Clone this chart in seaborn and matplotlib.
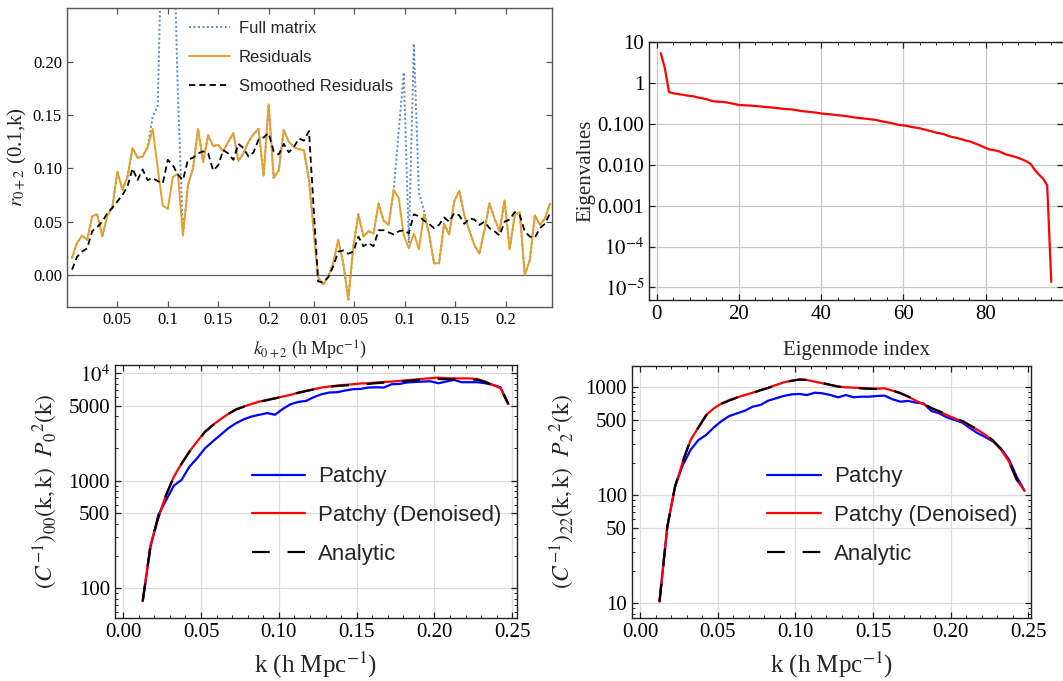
import numpy as np
import matplotlib
matplotlib.use('Agg')
import matplotlib.pyplot as plt
from matplotlib.ticker import LogLocator, NullFormatter, MultipleLocator
import seaborn as sns

# ---------------------------------------------------------------- data
# top left: correlation r_{0+2}(0.1, k), monopole half then quadrupole half
k_mono = [0.005, 0.010, 0.015, 0.020, 0.025, 0.030, 0.035, 0.040, 0.045, 0.050,
          0.055, 0.060, 0.065, 0.070, 0.075, 0.080, 0.085, 0.090, 0.095, 0.100,
          0.105, 0.110, 0.115, 0.120, 0.125, 0.130, 0.135, 0.140, 0.145, 0.150,
          0.155, 0.160, 0.165, 0.170, 0.175, 0.180, 0.185, 0.190, 0.195, 0.200,
          0.205, 0.210, 0.215, 0.220, 0.225, 0.230, 0.235, 0.240]
k_quad = [0.010, 0.015, 0.020, 0.025, 0.030, 0.035, 0.040, 0.045, 0.050, 0.055,
          0.060, 0.065, 0.070, 0.075, 0.080, 0.085, 0.090, 0.095, 0.100, 0.105,
          0.110, 0.115, 0.120, 0.125, 0.130, 0.135, 0.140, 0.145, 0.150, 0.155,
          0.160, 0.165, 0.170, 0.175, 0.180, 0.185, 0.190, 0.195, 0.200, 0.205,
          0.210, 0.215, 0.220, 0.225, 0.230, 0.235, 0.240]

full_mono = [0.016, 0.030, 0.037, 0.033, 0.055, 0.057, 0.036, 0.056, 0.063, 0.097,
             0.080, 0.092, 0.119, 0.110, 0.111, 0.120, 0.148, 0.159, 0.360, 0.550,
             0.350, 0.170, 0.038, 0.084, 0.100, 0.137, 0.106, 0.131, 0.121, 0.122,
             0.116, 0.125, 0.133, 0.107, 0.114, 0.125, 0.132, 0.137, 0.093, 0.160,
             0.091, 0.098, 0.136, 0.125, 0.120, 0.118, 0.117, 0.089]
full_quad = [-0.002, -0.009, -0.002, 0.011, 0.033, 0.011, -0.023, 0.027, 0.057, 0.036,
             0.041, 0.039, 0.067, 0.051, 0.047, 0.080, 0.135, 0.190, 0.030, 0.217,
             0.077, 0.061, 0.039, 0.011, 0.011, 0.048, 0.038, 0.069, 0.079, 0.056,
             0.042, 0.028, 0.020, 0.042, 0.067, 0.053, 0.041, 0.070, 0.024, 0.056,
             0.059, 0.000, 0.014, 0.056, 0.047, 0.053, 0.067]

res_mono = [0.016, 0.030, 0.037, 0.033, 0.055, 0.057, 0.036, 0.056, 0.063, 0.097,
            0.080, 0.092, 0.119, 0.110, 0.111, 0.120, 0.137, 0.100, 0.065, 0.062,
            0.092, 0.095, 0.037, 0.084, 0.100, 0.137, 0.106, 0.131, 0.121, 0.122,
            0.116, 0.125, 0.133, 0.107, 0.114, 0.125, 0.132, 0.137, 0.093, 0.160,
            0.091, 0.098, 0.136, 0.125, 0.120, 0.118, 0.117, 0.089]
res_quad = [-0.002, -0.009, -0.002, 0.011, 0.033, 0.011, -0.023, 0.027, 0.057, 0.036,
            0.041, 0.039, 0.067, 0.051, 0.047, 0.080, 0.072, 0.037, 0.025, 0.039,
            0.024, 0.057, 0.039, 0.011, 0.011, 0.048, 0.038, 0.069, 0.079, 0.056,
            0.042, 0.028, 0.020, 0.042, 0.067, 0.053, 0.041, 0.070, 0.024, 0.056,
            0.059, 0.000, 0.014, 0.056, 0.047, 0.053, 0.067]

smooth_mono = [0.005, 0.017, 0.022, 0.025, 0.041, 0.045, 0.050, 0.058, 0.063, 0.069,
               0.075, 0.083, 0.100, 0.089, 0.099, 0.089, 0.091, 0.088, 0.086, 0.108,
               0.103, 0.094, 0.089, 0.108, 0.110, 0.114, 0.116, 0.114, 0.098, 0.103,
               0.117, 0.114, 0.108, 0.123, 0.119, 0.111, 0.115, 0.127, 0.129, 0.133,
               0.116, 0.113, 0.123, 0.115, 0.120, 0.128, 0.126, 0.135]
smooth_quad = [-0.006, -0.007, -0.002, 0.008, 0.022, 0.023, 0.020, 0.022, 0.036, 0.027,
               0.030, 0.027, 0.042, 0.042, 0.040, 0.038, 0.041, 0.042, 0.039, 0.057,
               0.055, 0.051, 0.048, 0.044, 0.047, 0.054, 0.050, 0.058, 0.056, 0.048,
               0.053, 0.052, 0.047, 0.050, 0.044, 0.041, 0.037, 0.050, 0.052, 0.059,
               0.056, 0.041, 0.036, 0.035, 0.044, 0.048, 0.058]

# top right: eigenvalue spectrum
eig_vals = [5.5, 2.3, 0.61, 0.57, 0.55, 0.53, 0.51, 0.49, 0.48, 0.45,
            0.43, 0.41, 0.38, 0.36, 0.355, 0.35, 0.34, 0.325, 0.31, 0.295,
            0.29, 0.287, 0.283, 0.278, 0.272, 0.265, 0.26, 0.255, 0.25, 0.242,
            0.235, 0.232, 0.228, 0.22, 0.21, 0.205, 0.20, 0.195, 0.19, 0.182,
            0.178, 0.175, 0.17, 0.165, 0.162, 0.158, 0.152, 0.146, 0.142, 0.139,
            0.135, 0.131, 0.128, 0.122, 0.116, 0.111, 0.107, 0.100, 0.095, 0.093,
            0.090, 0.085, 0.082, 0.079, 0.074, 0.070, 0.066, 0.062, 0.059, 0.056,
            0.051, 0.048, 0.046, 0.043, 0.040, 0.038, 0.035, 0.032, 0.029, 0.026,
            0.024, 0.023, 0.022, 0.020, 0.018, 0.017, 0.016, 0.0148, 0.0135, 0.0122,
            0.0105, 0.0075, 0.0058, 0.0046, 0.0032, 1.35e-5]
eig_idx = np.arange(1, len(eig_vals) + 1)

# bottom: diagonal of the inverse covariance times P^2
k_bins = [0.0125, 0.0175, 0.0225, 0.0275, 0.0325, 0.0375, 0.0425, 0.0475, 0.0525, 0.0575,
          0.0625, 0.0675, 0.0725, 0.0775, 0.0825, 0.0875, 0.0925, 0.0975, 0.1025, 0.1075,
          0.1125, 0.1175, 0.1225, 0.1275, 0.1325, 0.1375, 0.1425, 0.1475, 0.1525, 0.1575,
          0.1625, 0.1675, 0.1725, 0.1775, 0.1825, 0.1875, 0.1925, 0.1975, 0.2025, 0.2075,
          0.2125, 0.2175, 0.2225, 0.2275, 0.2325, 0.2375, 0.2425, 0.2475]

patchy_00 = [76, 240, 480, 660, 900, 1020, 1350, 1620, 2000, 2320,
             2670, 3080, 3430, 3730, 3960, 4110, 4260, 4110, 4650, 5150,
             5410, 5530, 6000, 6380, 6620, 6660, 6900, 7100, 7150, 7360,
             7400, 7360, 7900, 7950, 8200, 8300, 8360, 8420, 8070, 8360,
             8670, 8250, 8250, 8250, 8070, 7800, 7400, 5180]
denoised_00 = [76, 253, 450, 740, 1090, 1450, 1870, 2320, 2870, 3300,
               3730, 4190, 4620, 4900, 5180, 5450, 5650, 5860, 6070, 6290,
               6610, 6850, 7100, 7360, 7520, 7680, 7800, 7900, 8020, 8070,
               8200, 8300, 8360, 8480, 8600, 8730, 8860, 8990, 9100, 9000,
               8950, 8950, 8950, 8850, 8360, 7800, 7250, 5180]
analytic_00 = [76, 250, 455, 735, 1080, 1440, 1860, 2300, 2840, 3280,
               3700, 4170, 4600, 4880, 5150, 5420, 5620, 5830, 6040, 6250,
               6570, 6820, 7080, 7320, 7480, 7620, 7700, 7780, 7880, 7950,
               8080, 8180, 8260, 8380, 8500, 8620, 8740, 8850, 8850, 8800,
               8750, 8750, 8750, 8700, 8300, 7750, 7200, 5180]

patchy_22 = [10.4, 51, 120, 190, 262, 323, 360, 424, 485, 540,
             571, 604, 658, 682, 748, 786, 826, 855, 862, 843,
             886, 874, 843, 803, 843, 803, 814, 814, 826, 832,
             770, 732, 743, 717, 706, 600, 571, 524, 495, 468,
             415, 373, 343, 312, 268, 214, 148, 110]
denoised_22 = [10.4, 51, 120, 204, 323, 424, 551, 635, 706, 758,
               803, 843, 886, 938, 986, 1043, 1104, 1144, 1177, 1160,
               1120, 1081, 1043, 1007, 993, 986, 979, 972, 965, 972,
               925, 874, 814, 748, 692, 635, 592, 551, 513, 478,
               436, 400, 360, 312, 262, 204, 138, 110]
analytic_22 = [10.4, 51, 121, 206, 326, 420, 545, 630, 700, 750,
               798, 838, 880, 932, 980, 1038, 1098, 1140, 1170, 1165,
               1128, 1088, 1048, 1010, 990, 980, 970, 962, 958, 968,
               930, 880, 820, 752, 698, 640, 598, 558, 520, 485,
               442, 406, 366, 318, 266, 206, 140, 110]

QUAD_SHIFT = 0.239      # where the quadrupole half starts on the joint axis
QUAD_TICK_SHIFT = 0.235

# ---------------------------------------------------------------- style
sns.set_theme(style='ticks')
plt.rcParams['font.family'] = ['Liberation Serif', 'DejaVu Serif']
plt.rcParams['mathtext.fontset'] = 'stix'
plt.rcParams['axes.linewidth'] = 1.0
sans = ['Liberation Sans', 'DejaVu Sans']

fig = plt.figure(figsize=(10.63, 6.81), dpi=100)
ax_tl = fig.add_axes([0.0630, 0.5492, 0.4563, 0.4391])
ax_tr = fig.add_axes([0.6108, 0.5595, 0.3892, 0.3793])
ax_bl = fig.add_axes([0.1082, 0.0930, 0.3779, 0.3711])
ax_br = fig.add_axes([0.5943, 0.0930, 0.3756, 0.3700])


def frame(ax, color='#333333'):
    for s in ax.spines.values():
        s.set_color(color)
        s.set_linewidth(1.0)
    ax.tick_params(which='both', direction='in', top=True, right=True,
                   colors=color, labelcolor='black')
    ax.tick_params(which='major', length=4.5, width=0.9)
    ax.tick_params(which='minor', length=2.5, width=0.7)


# ---------------------------------------------------------------- top left
x_joint = k_mono + [k + QUAD_SHIFT for k in k_quad]
full = full_mono + full_quad
res = res_mono + res_quad
smooth = smooth_mono + smooth_quad

ax_tl.axhline(0, color='#666666', lw=0.9, zorder=1)
sns.lineplot(x=x_joint, y=full, ax=ax_tl, color='#5b86c5', lw=1.4,
             linestyle=(0, (1, 1.3)), label='Full matrix')
sns.lineplot(x=x_joint, y=res, ax=ax_tl, color='#e3a02e', lw=1.4, label='Residuals')
sns.lineplot(x=x_joint, y=smooth, ax=ax_tl, color='black', lw=1.3,
             linestyle=(0, (3.5, 2.2)), label='Smoothed Residuals')
ax_tl.set_xlim(0.0, 0.481)
ax_tl.set_ylim(-0.030, 0.2504)
tl_ticks = [0.05, 0.10, 0.15, 0.20, 0.245] + [k + QUAD_TICK_SHIFT for k in (0.05, 0.10, 0.15, 0.20)]
ax_tl.set_xticks(tl_ticks, ['0.05', '0.1', '0.15', '0.2', '0.01', '0.05', '0.1', '0.15', '0.2'])
ax_tl.set_yticks([0.0, 0.05, 0.10, 0.15, 0.20], ['0.00', '0.05', '0.10', '0.15', '0.20'])
frame(ax_tl, '#555555')
ax_tl.tick_params(labelsize=12)
ax_tl.set_xlabel(r'$k_{0+2}$ (h Mpc$^{-1}$)', fontsize=13, labelpad=8)
ax_tl.set_ylabel(r'$r_{0+2}$ (0.1,k)', fontsize=15, labelpad=3)
ax_tl.legend(loc='center left', bbox_to_anchor=(0.2515, 0.834), frameon=False,
             prop={'family': sans, 'size': 12}, handlelength=2.45, handletextpad=0.56,
             labelspacing=0.83, borderpad=0, borderaxespad=0)

# ---------------------------------------------------------------- top right
sns.lineplot(x=eig_idx, y=eig_vals, ax=ax_tr, color='red', lw=1.6)
ax_tr.set_yscale('log')
ax_tr.set_xlim(-1.8, 98.85)
ax_tr.set_ylim(10 ** -5.31, 10 ** 1.02)
ax_tr.set_xticks([0, 20, 40, 60, 80])
ax_tr.xaxis.set_minor_locator(MultipleLocator(4))
ax_tr.set_yticks([1e-5, 1e-4, 1e-3, 1e-2, 1e-1, 1, 10],
                 ['$10^{-5}$', '$10^{-4}$', '0.001', '0.010', '0.100', '1', '10'])
ax_tr.yaxis.set_minor_locator(LogLocator(base=10, subs=np.arange(2, 10)))
ax_tr.yaxis.set_minor_formatter(NullFormatter())
ax_tr.grid(True, which='major', color='#c8c8c8', lw=0.9)
frame(ax_tr, '#222222')
ax_tr.spines['right'].set_visible(False)
ax_tr.tick_params(labelsize=15)
ax_tr.set_xlabel('Eigenmode index', fontsize=15, labelpad=12)
ax_tr.set_ylabel('Eigenvalues', fontsize=15, labelpad=2)

# ---------------------------------------------------------------- bottom panels
bottom = [
    (ax_bl, patchy_00, denoised_00, analytic_00, (10 ** 1.727, 10 ** 4.077),
     [100, 500, 1000, 5000, 10000], ['100', '500', '1000', '5000', '$10^4$'],
     r'$(C^{-1})_{00}\mathrm{(k,k)}\ \ P_0{}^2\mathrm{(k)}$', (-0.0053, 0.2529), (0.341, 0.404)),
    (ax_br, patchy_22, denoised_22, analytic_22, (10 ** 0.867, 10 ** 3.197),
     [10, 50, 100, 500, 1000], ['10', '50', '100', '500', '1000'],
     r'$(C^{-1})_{22}\mathrm{(k,k)}\ \ P_2{}^2\mathrm{(k)}$', (-0.0054, 0.2517), (0.340, 0.405)),
]
for ax, pat, den, ana, ylim, yt, ytl, ylab, xlim, leg_xy in bottom:
    sns.lineplot(x=k_bins, y=pat, ax=ax, color='#0000ff', lw=1.6, label='Patchy')
    sns.lineplot(x=k_bins, y=den, ax=ax, color='#ff0000', lw=1.6, label='Patchy (Denoised)')
    sns.lineplot(x=k_bins, y=ana, ax=ax, color='black', lw=1.6,
                 linestyle=(0, (8, 8)), label='Analytic')
    ax.set_yscale('log')
    ax.set_xlim(*xlim)
    ax.set_ylim(*ylim)
    ax.set_xticks([0.0, 0.05, 0.10, 0.15, 0.20, 0.25],
                  ['0.00', '0.05', '0.10', '0.15', '0.20', '0.25'])
    ax.xaxis.set_minor_locator(MultipleLocator(0.01))
    ax.set_yticks(yt, ytl)
    ax.yaxis.set_minor_locator(LogLocator(base=10, subs=np.arange(2, 10)))
    ax.yaxis.set_minor_formatter(NullFormatter())
    ax.grid(True, which='major', color='#dcdcdc', lw=0.9)
    frame(ax, '#222222')
    ax.tick_params(labelsize=15)
    ax.set_xlabel(r'k (h Mpc$^{-1}$)', fontsize=18, labelpad=6)
    ax.set_ylabel(ylab, fontsize=17, labelpad=6)
    ax.legend(loc='center left', bbox_to_anchor=leg_xy, frameon=False,
              prop={'family': sans, 'size': 16}, handlelength=2.4, handletextpad=0.59,
              labelspacing=0.8, borderpad=0, borderaxespad=0)

fig.savefig('out.png', dpi=100)
